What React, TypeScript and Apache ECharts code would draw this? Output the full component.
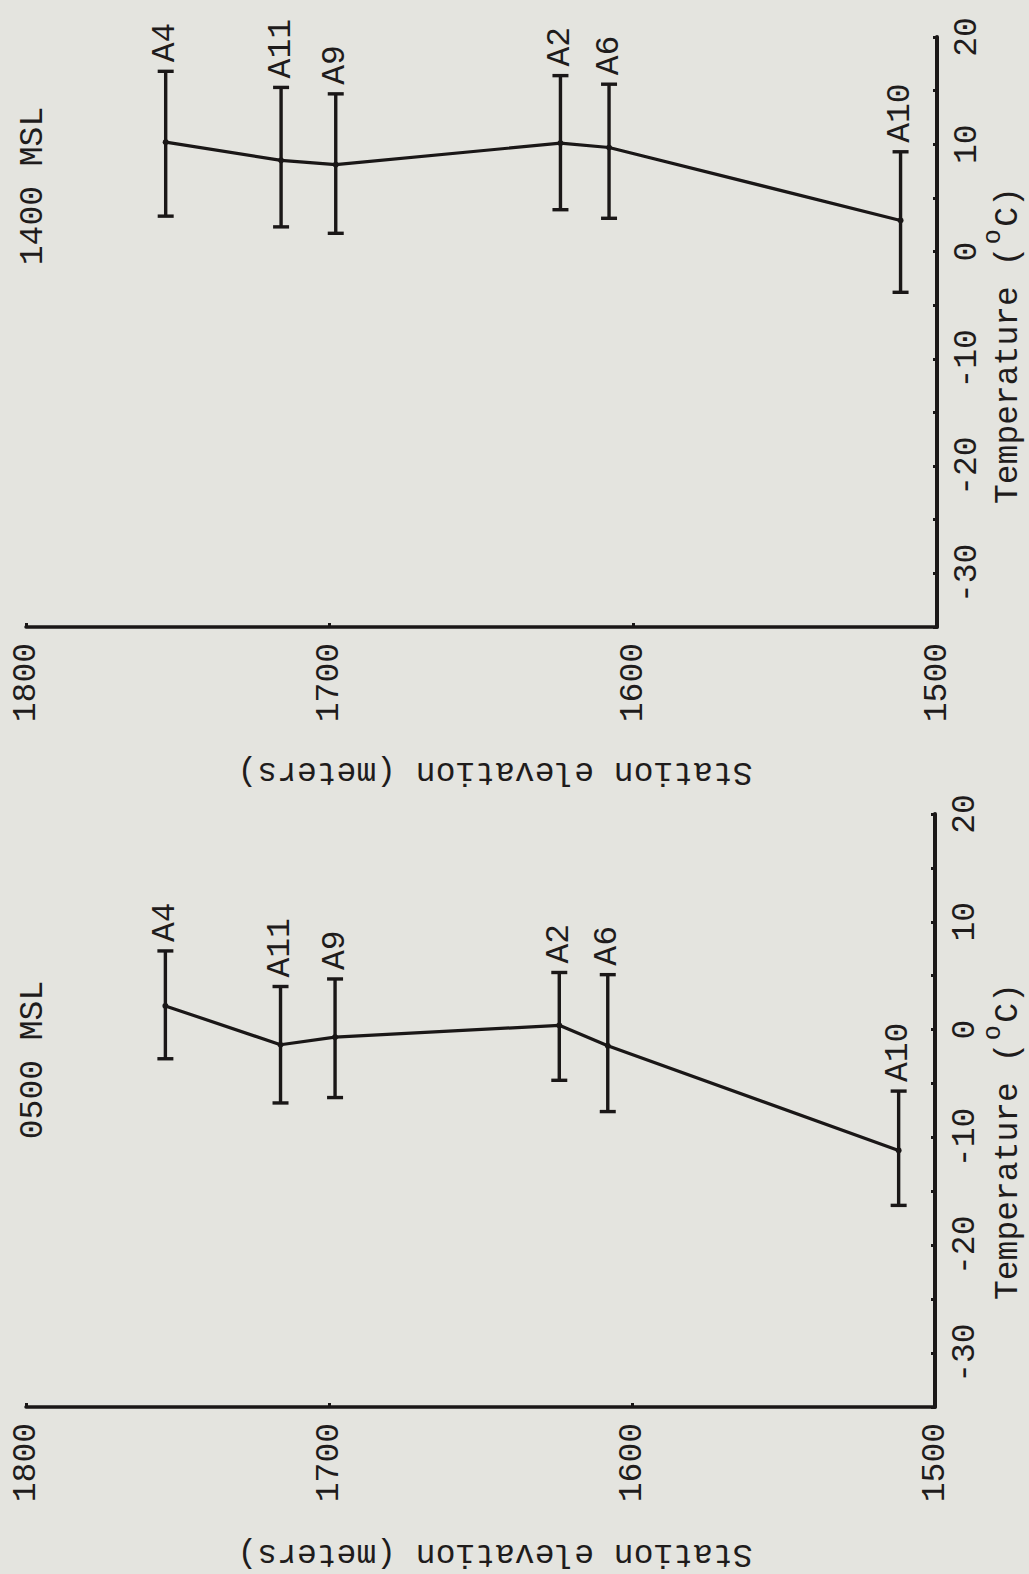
import React, { useEffect, useRef } from "react";
import * as echarts from "echarts";

// Stations, ordered from highest to lowest elevation
const STATIONS = ["A4", "A11", "A9", "A2", "A6", "A10"];
const ELEVATION_M = [1754, 1716, 1698, 1624, 1608, 1512];

// 1400 MSL temperatures (deg C): mean and range
const MEAN_1400 = [10.2, 8.5, 8.1, 10.1, 9.7, 2.9];
const HIGH_1400 = [16.8, 15.3, 14.7, 16.4, 15.6, 9.3];
const LOW_1400 = [3.3, 2.3, 1.7, 3.9, 3.1, -3.8];

// 0500 MSL temperatures (deg C): mean and range
const MEAN_0500 = [2.2, -1.4, -0.7, 0.4, -1.5, -11.2];
const HIGH_0500 = [7.3, 4.0, 4.7, 5.3, 5.1, -5.7];
const LOW_0500 = [-2.7, -6.8, -6.3, -4.7, -7.6, -16.3];

// Labelled ticks
const ELEV_TICK_LABELS = [1500, 1600, 1700, 1800];
const TEMP_TICK_LABELS = [-30, -20, -10, 0, 10, 20];

const INK = "#1a1717";
const TEXT = "#1f1c1c";
const BG = "#e4e4df";
const FONT = "'Liberation Mono', 'DejaVu Sans Mono', monospace";
const FS = 33;

const PANELS = [
  {
    title: "1400 MSL",
    mean: MEAN_1400,
    high: HIGH_1400,
    low: LOW_1400,
    grid: { left: 26, right: 92, top: 37, height: 590 },
    titlePos: [33, 186],
    tempNamePos: [1008, 504],
    elevNamePos: [495, 771],
  },
  {
    title: "0500 MSL",
    mean: MEAN_0500,
    high: HIGH_0500,
    low: LOW_0500,
    grid: { left: 26, right: 94, top: 814, height: 593 },
    titlePos: [33, 1060],
    tempNamePos: [1008, 1300],
    elevNamePos: [495, 1553],
  },
];

function rotatedText(text: string, x: number, y: number, rotation: number, align: string, size = FS) {
  return {
    type: "text",
    x,
    y,
    rotation,
    silent: true,
    style: {
      text,
      fontFamily: FONT,
      fontSize: size,
      fill: TEXT,
      align,
      textAlign: align,
      verticalAlign: "middle",
      textVerticalAlign: "middle",
    },
  };
}

function buildOption() {
  const graphic: any[] = [];
  PANELS.forEach((p) => {
    graphic.push(rotatedText(p.title, p.titlePos[0], p.titlePos[1], Math.PI / 2, "center"));
    // "Temperature ( C)" with a raised degree "o" placed in the blank cell
    const adv = FS * 0.6;
    graphic.push(rotatedText("Temperature ( C)", p.tempNamePos[0], p.tempNamePos[1], Math.PI / 2, "left"));
    graphic.push(
      rotatedText("o", p.tempNamePos[0] - 15, p.tempNamePos[1] - adv * 13.5, Math.PI / 2, "center", 25)
    );
    graphic.push(rotatedText("Station elevation (meters)", p.elevNamePos[0], p.elevNamePos[1], Math.PI, "center"));
  });

  return {
    animation: false,
    backgroundColor: BG,
    grid: PANELS.map((p) => ({ ...p.grid, containLabel: false })),
    xAxis: PANELS.map((_, i) => ({
      gridIndex: i,
      type: "value",
      min: 1500,
      max: 1800,
      interval: 100,
      inverse: true,
      position: "bottom",
      axisLine: { show: true, onZero: false, lineStyle: { color: INK, width: 3.5 } },
      axisTick: { show: true, inside: true, length: 4, lineStyle: { color: INK, width: 3 } },
      axisLabel: {
        rotate: 90,
        margin: 16,
        fontFamily: FONT,
        fontSize: FS,
        color: TEXT,
        formatter: (v: number) => (ELEV_TICK_LABELS.includes(v) ? String(v) : ""),
      },
      splitLine: { show: false },
    })),
    yAxis: PANELS.map((_, i) => ({
      gridIndex: i,
      type: "value",
      min: -35,
      max: 20,
      interval: 5,
      position: "right",
      axisLine: { show: true, onZero: false, lineStyle: { color: INK, width: 4 } },
      axisTick: { show: true, inside: true, length: 4, lineStyle: { color: INK, width: 3 } },
      axisLabel: {
        rotate: 90,
        margin: 14,
        fontFamily: FONT,
        fontSize: FS,
        color: TEXT,
        formatter: (v: number) => (TEMP_TICK_LABELS.includes(v) ? String(v) : ""),
      },
      splitLine: { show: false },
    })),
    series: PANELS.flatMap((p, i) => [
      {
        type: "custom",
        xAxisIndex: i,
        yAxisIndex: i,
        clip: false,
        silent: true,
        encode: { x: 0, y: [1, 2] },
        data: STATIONS.map((_, k) => [ELEVATION_M[k], p.low[k], p.high[k], k]),
        renderItem: (params: any, api: any) => {
          const e = api.value(0);
          const lo = api.coord([e, api.value(1)]);
          const hi = api.coord([e, api.value(2)]);
          const name = STATIONS[api.value(3)];
          const cap = 8;
          const stroke = { stroke: INK, lineWidth: 3.4 };
          return {
            type: "group",
            children: [
              { type: "line", shape: { x1: lo[0], y1: lo[1], x2: hi[0], y2: hi[1] }, style: stroke },
              { type: "line", shape: { x1: lo[0] - cap, y1: lo[1], x2: lo[0] + cap, y2: lo[1] }, style: stroke },
              { type: "line", shape: { x1: hi[0] - cap, y1: hi[1], x2: hi[0] + cap, y2: hi[1] }, style: stroke },
              {
                type: "text",
                x: hi[0],
                y: hi[1] - 9,
                rotation: Math.PI / 2,
                style: {
                  text: name,
                  fontFamily: FONT,
                  fontSize: FS,
                  fill: TEXT,
                  align: "left",
                  textAlign: "left",
                  verticalAlign: "middle",
                  textVerticalAlign: "middle",
                },
              },
            ],
          };
        },
      },
      {
        type: "line",
        xAxisIndex: i,
        yAxisIndex: i,
        z: 3,
        silent: true,
        data: STATIONS.map((_, k) => [ELEVATION_M[k], p.mean[k]]),
        symbol: "circle",
        symbolSize: 6,
        itemStyle: { color: INK },
        lineStyle: { color: INK, width: 3.2 },
      },
    ]),
    graphic,
  };
}

export default function App() {
  const ref = useRef<HTMLDivElement>(null);
  useEffect(() => {
    if (!ref.current) return;
    const chart = echarts.init(ref.current, undefined, { renderer: "svg" });
    chart.setOption(buildOption() as any);
    return () => chart.dispose();
  }, []);
  return (
    <div
      ref={ref}
      style={{ position: "fixed", left: 0, top: 0, width: 1029, height: 1574, background: BG }}
    />
  );
}
